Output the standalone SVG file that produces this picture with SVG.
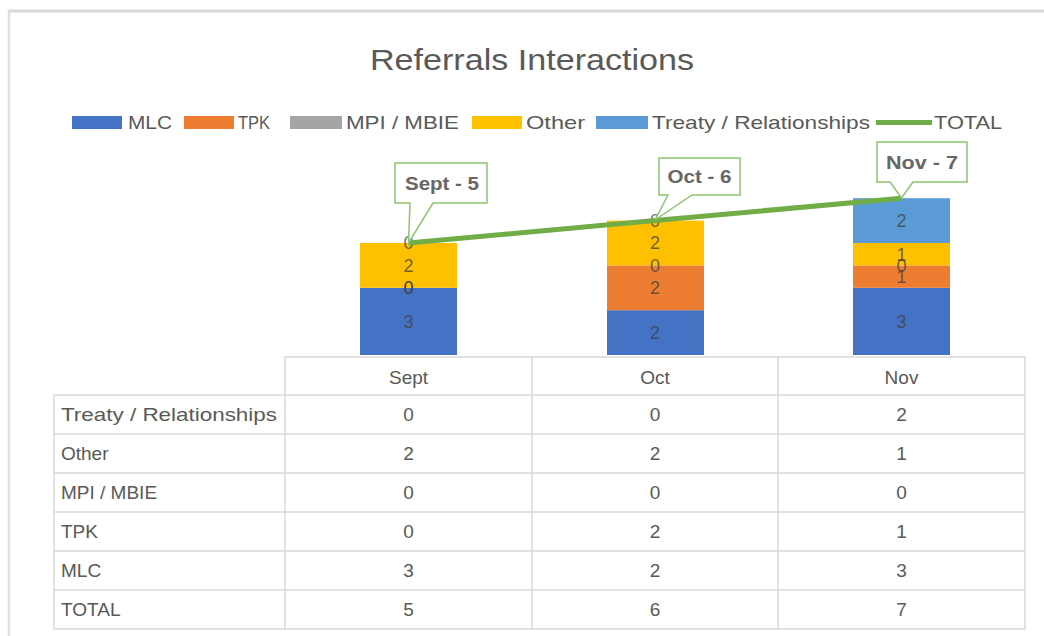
<svg xmlns="http://www.w3.org/2000/svg" width="1044" height="636" viewBox="0 0 1044 636">
<style>
text{font-family:"Liberation Sans",Arial,sans-serif;fill:#595959}
.title{font-size:30px}
.leg{font-size:19px}
.tbl{font-size:19px}
.num{font-size:19px;text-anchor:middle}
.dl{font-size:18px;text-anchor:middle;fill:#404040;fill-opacity:0.75}
.co{font-size:18px;font-weight:bold;text-anchor:middle;fill:#666}
.grid{stroke:#d9d9d9;stroke-width:1.5;fill:none}
.callout{fill:#fff;stroke:#8fc46f;stroke-width:1.5}
</style>
<rect width="1044" height="636" fill="#fff"/>
<g id="frame">
<line x1="8" y1="11" x2="1044" y2="11" stroke="#d9d9d9" stroke-width="3"/>
<line x1="9" y1="11" x2="9" y2="636" stroke="#e0e0e0" stroke-width="2.5"/>
</g>
<text id="title" class="title" x="532" y="70" text-anchor="middle" textLength="324" lengthAdjust="spacingAndGlyphs">Referrals Interactions</text>
<g id="legend">
<rect x="72" y="116" width="50" height="13" fill="#4472C4"/>
<text class="leg" x="128" y="129" textLength="44" lengthAdjust="spacingAndGlyphs">MLC</text>
<rect x="184" y="116" width="50" height="13" fill="#ED7D31"/>
<text class="leg" x="238" y="129" textLength="32" lengthAdjust="spacingAndGlyphs">TPK</text>
<rect x="290" y="116" width="52" height="13" fill="#A5A5A5"/>
<text class="leg" x="346" y="129" textLength="113" lengthAdjust="spacingAndGlyphs">MPI / MBIE</text>
<rect x="472" y="116" width="50" height="13" fill="#FFC000"/>
<text class="leg" x="526" y="129" textLength="59" lengthAdjust="spacingAndGlyphs">Other</text>
<rect x="596" y="116" width="52" height="13" fill="#5B9BD5"/>
<text class="leg" x="652" y="129" textLength="218" lengthAdjust="spacingAndGlyphs">Treaty / Relationships</text>
<line x1="876" y1="122.5" x2="932" y2="122.5" stroke="#70AD47" stroke-width="5"/>
<text class="leg" x="934" y="129" textLength="68" lengthAdjust="spacingAndGlyphs">TOTAL</text>
</g>
<g id="bar-sept">
<rect x="360" y="287.8" width="97" height="67.2" fill="#4472C4"/>
<rect x="360" y="243" width="97" height="44.8" fill="#FFC000"/>
<text class="dl" x="408.5" y="327.5">3</text>
<text class="dl" x="408.5" y="294">0</text>
<text class="dl" x="408.5" y="294">0</text>
<text class="dl" x="408.5" y="271.5">2</text>
<text class="dl" x="408.5" y="249">0</text>
</g>
<g id="bar-oct">
<rect x="607" y="310.2" width="97" height="44.8" fill="#4472C4"/>
<rect x="607" y="265.4" width="97" height="44.8" fill="#ED7D31"/>
<rect x="607" y="220.6" width="97" height="44.8" fill="#FFC000"/>
<text class="dl" x="655" y="339">2</text>
<text class="dl" x="655" y="294">2</text>
<text class="dl" x="655" y="271.5">0</text>
<text class="dl" x="655" y="249">2</text>
<text class="dl" x="655" y="226.5">0</text>
</g>
<g id="bar-nov">
<rect x="853" y="287.8" width="97" height="67.2" fill="#4472C4"/>
<rect x="853" y="265.4" width="97" height="22.4" fill="#ED7D31"/>
<rect x="853" y="243" width="97" height="22.4" fill="#FFC000"/>
<rect x="853" y="198.2" width="97" height="44.8" fill="#5B9BD5"/>
<text class="dl" x="901.5" y="327.5">3</text>
<text class="dl" x="901.5" y="283">1</text>
<text class="dl" x="901.5" y="271.5">0</text>
<text class="dl" x="901.5" y="260.5">1</text>
<text class="dl" x="901.5" y="226.5">2</text>
</g>
<g id="connectors">
<polyline points="408.5,243 655,220.6 901.5,198.2" fill="none" stroke="#70AD47" stroke-width="5" stroke-linejoin="round"/>
</g>
<g id="callout-sept">
<path class="callout" d="M395,163 H487 V203 H433 L408.5,243 L410,203 H395 Z"/>
<text class="co" x="442" y="190" textLength="74" lengthAdjust="spacingAndGlyphs">Sept - 5</text>
</g>
<g id="callout-oct">
<path class="callout" d="M659,158 H740 V195 H692 L655,220 L668,195 H659 Z"/>
<text class="co" x="699.5" y="183" textLength="64" lengthAdjust="spacingAndGlyphs">Oct - 6</text>
</g>
<g id="callout-nov">
<path class="callout" d="M877,142 H967 V182 H913 L901.5,198 L890,182 H877 Z"/>
<text class="co" x="922" y="169" textLength="72" lengthAdjust="spacingAndGlyphs">Nov - 7</text>
</g>
<g id="table">
<path class="grid" d="M285,357 H1025 V629 H54 V395 H1025 M54,434 H1025 M54,473 H1025 M54,512 H1025 M54,551 H1025 M54,590 H1025 M285,357 V629 M532,357 V629 M778,357 V629"/>
<text class="num" x="408.5" y="384">Sept</text>
<text class="num" x="655" y="384">Oct</text>
<text class="num" x="901.5" y="384">Nov</text>
<text class="tbl" x="61" y="421" textLength="216" lengthAdjust="spacingAndGlyphs">Treaty / Relationships</text>
<text class="tbl" x="61" y="460">Other</text>
<text class="tbl" x="61" y="499">MPI / MBIE</text>
<text class="tbl" x="61" y="538">TPK</text>
<text class="tbl" x="61" y="577">MLC</text>
<text class="tbl" x="61" y="616">TOTAL</text>
<text class="num" x="408.5" y="421">0</text><text class="num" x="655" y="421">0</text><text class="num" x="901.5" y="421">2</text>
<text class="num" x="408.5" y="460">2</text><text class="num" x="655" y="460">2</text><text class="num" x="901.5" y="460">1</text>
<text class="num" x="408.5" y="499">0</text><text class="num" x="655" y="499">0</text><text class="num" x="901.5" y="499">0</text>
<text class="num" x="408.5" y="538">0</text><text class="num" x="655" y="538">2</text><text class="num" x="901.5" y="538">1</text>
<text class="num" x="408.5" y="577">3</text><text class="num" x="655" y="577">2</text><text class="num" x="901.5" y="577">3</text>
<text class="num" x="408.5" y="616">5</text><text class="num" x="655" y="616">6</text><text class="num" x="901.5" y="616">7</text>
</g>
</svg>
